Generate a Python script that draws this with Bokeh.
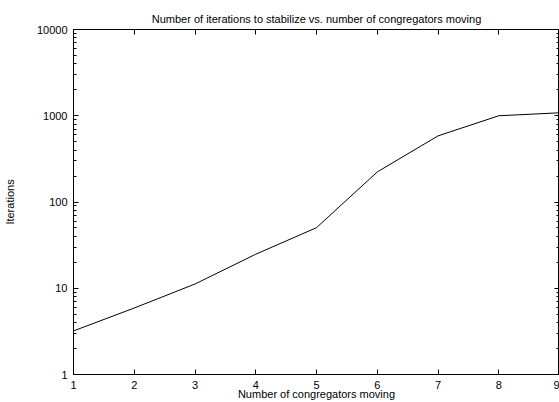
from bokeh.plotting import figure
from bokeh.models import FixedTicker, LinearAxis, LogAxis, CustomJSTickFormatter, Range1d
from bokeh.embed import file_html
from bokeh.resources import INLINE

# data
movers = [1, 2, 3, 4, 5, 6, 7, 8, 9]
iterations = [3.2, 5.9, 11.2, 24.8, 50.4, 223, 584, 1000, 1082]

x_ticks = [1, 2, 3, 4, 5, 6, 7, 8, 9]
y_ticks = [1, 10, 100, 1000, 10000]
y_tick_labels = ["1", "10", "100", "1000", "10000"]
y_minor = [m * d for d in [1, 10, 100, 1000] for m in range(2, 10)]

title_text = "Number of iterations to stabilize vs. number of congregators moving"
x_label = "Number of congregators moving"
y_label = "Iterations"

FONT = "Liberation Sans"

p = figure(width=559, height=402, y_axis_type="log",
           x_range=Range1d(1, 9), y_range=Range1d(1, 10000),
           output_backend="svg", toolbar_location=None,
           min_border_left=73, min_border_right=0,
           min_border_top=29, min_border_bottom=27)

p.title.text = title_text
p.title.align = "center"
p.title.text_font = FONT
p.title.text_font_size = "11px"
p.title.text_font_style = "normal"
p.title.text_color = "#000000"
p.title.text_line_height = 0.7
p.title.standoff = 10

p.xgrid.visible = False
p.ygrid.visible = False
p.outline_line_color = "#000000"
p.outline_line_alpha = 1.0
p.outline_line_width = 1
p.background_fill_color = "white"
p.border_fill_color = "white"

xt = FixedTicker(ticks=x_ticks, minor_ticks=[])
yt = FixedTicker(ticks=y_ticks, minor_ticks=y_minor)

def style_axis(ax):
    ax.axis_line_color = "#000000"
    ax.major_tick_line_color = "#000000"
    ax.minor_tick_line_color = "#000000"
    ax.major_tick_in = 5
    ax.major_tick_out = 0
    ax.minor_tick_in = 3
    ax.minor_tick_out = 0
    ax.major_label_text_font = FONT
    ax.major_label_text_font_size = "11px"
    ax.major_label_text_color = "#000000"
    ax.axis_label_text_font = FONT
    ax.axis_label_text_font_size = "11px"
    ax.axis_label_text_font_style = "normal"
    ax.axis_label_text_color = "#000000"

xa = p.xaxis[0]
xa.ticker = xt
style_axis(xa)
xa.axis_label = x_label
xa.major_label_standoff = 6
xa.axis_label_standoff = -4

ya = p.yaxis[0]
ya.ticker = yt
style_axis(ya)
ya.axis_label = y_label
ya.major_label_overrides = {t: l for t, l in zip(y_ticks, y_tick_labels)}
ya.major_label_standoff = 6
ya.axis_label_standoff = 18

blank = CustomJSTickFormatter(code="return ''")

top = LinearAxis(ticker=xt, formatter=blank)
style_axis(top)
top.major_label_text_font_size = "0px"
top.major_label_standoff = 0
p.add_layout(top, "above")

right = LogAxis(ticker=yt, formatter=blank)
style_axis(right)
right.major_label_text_font_size = "0px"
right.major_label_standoff = 0
p.add_layout(right, "right")

p.line(movers, iterations, line_color="#000000", line_width=1)

open("out.html", "w").write(file_html(p, INLINE))
